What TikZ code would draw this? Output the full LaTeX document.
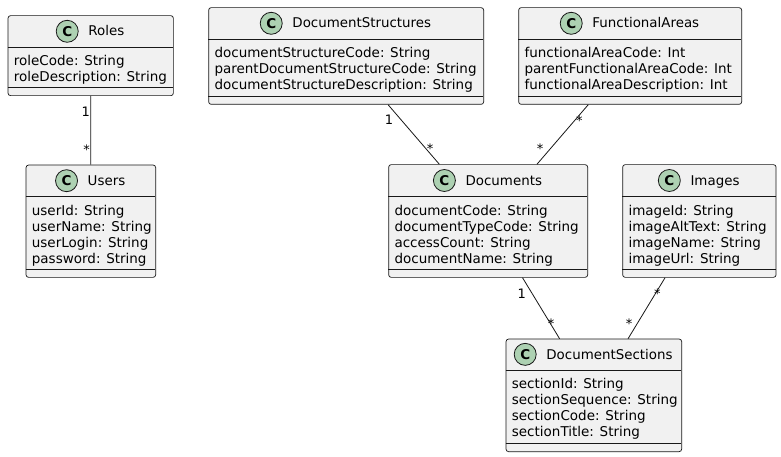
\documentclass[tikz,border=0pt]{standalone}
\usepackage{fontspec}
\setmainfont{DejaVu Sans}
\usetikzlibrary{calc}
\definecolor{boxfill}{HTML}{F1F1F1}
\definecolor{boxline}{HTML}{181818}
\definecolor{circfill}{HTML}{ADD1B2}
\tikzset{
  classbox/.style={draw=boxline, fill=boxfill, line width=0.7pt, rounded corners=2.5pt, inner sep=0pt},
  divider/.style={draw=boxline, line width=0.7pt},
  titletext/.style={inner sep=0pt, font=\fontsize{13.4}{16}\selectfont, text=black},
  attrtext/.style={inner sep=0pt, align=left, font=\fontsize{13.5}{16}\selectfont, text=black},
  cmark/.style={circle, draw=boxline, fill=circfill, line width=0.8pt, minimum size=22pt, inner sep=0pt, font=\fontsize{13.5}{16}\selectfont\bfseries},
  assoc/.style={draw=boxline, line width=0.8pt},
  mult/.style={inner sep=0pt, font=\fontsize{13}{15}\selectfont, text=black, anchor=base},
}
\newcommand\umlclass[9]{%
  \pgfmathsetmacro\cw{#4-#2}%
  \pgfmathsetmacro\ch{#7-#3}%
  \node[classbox, minimum width=\cw pt, minimum height=\ch pt, anchor=north west] (#1) at (#2,#3) {};
  \draw[divider] (#2,#5) -- (#4,#5);
  \draw[divider] (#2,#6) -- (#4,#6);
  \coordinate (#1-h) at ({(#2+#4)/2},{(#3+#5)/2});
  \node[titletext, anchor=base] (#1-t) at ({(#2+#4)/2+16},{(#3+#5)/2+4.7}) {#8};
  \node[cmark] (#1-c) at ([xshift=-21pt]#1-t.west |- #1-h) {C};
  \node[attrtext, anchor=north west] (#1-a) at (#2+6,#5+8) {#9};
}
\begin{document}
\begin{tikzpicture}[x=1pt, y=-1pt]
\useasboundingbox[fill=white] (0,0) rectangle (781,457);

\umlclass{roles}{7.7}{15.3}{173}{47.3}{87.3}{95.3}{Roles}{roleCode: String\\roleDescription: String}
\umlclass{users}{25.7}{164.7}{155.3}{196.7}{269}{277}{Users}{userId: String\\userName: String\\userLogin: String\\password: String}
\umlclass{docstruct}{208.3}{7.3}{483.3}{39.3}{96.7}{104}{DocumentStructures}{documentStructureCode: String\\parentDocumentStructureCode: String\\documentStructureDescription: String}
\umlclass{funcareas}{518.3}{7.3}{741.3}{39.3}{96.7}{104}{FunctionalAreas}{functionalAreaCode: Int\\parentFunctionalAreaCode: Int\\functionalAreaDescription: Int}
\umlclass{documents}{388.3}{164.3}{587.3}{196.7}{269.3}{277}{Documents}{documentCode: String\\documentTypeCode: String\\accessCount: String\\documentName: String}
\umlclass{images}{622.3}{164.3}{775.7}{196.7}{269}{277}{Images}{imageId: String\\imageAltText: String\\imageName: String\\imageUrl: String}
\umlclass{docsections}{505.7}{338.7}{681.3}{370}{443.3}{451.3}{DocumentSections}{sectionId: String\\sectionSequence: String\\sectionCode: String\\sectionTitle: String}

\draw[assoc] (roles) -- (users);
\draw[assoc] (docstruct) -- (documents);
\draw[assoc] (funcareas) -- (documents);
\draw[assoc] (documents) -- (docsections);
\draw[assoc] (images) -- (docsections);

\node[mult] (m1) at (85.7,116.7) {1};
\node[mult] (m2) at (86.7,154.2) {*};
\node[mult] (m3) at (389,125) {1};
\node[mult] (m4) at (430,153.2) {*};
\node[mult] (m5) at (579.3,125.8) {*};
\node[mult] (m6) at (540,153.2) {*};
\node[mult] (m7) at (521.7,298) {1};
\node[mult] (m8) at (551,328.2) {*};
\node[mult] (m9) at (657.3,298.5) {*};
\node[mult] (m10) at (629,328.2) {*};
\end{tikzpicture}
\end{document}
